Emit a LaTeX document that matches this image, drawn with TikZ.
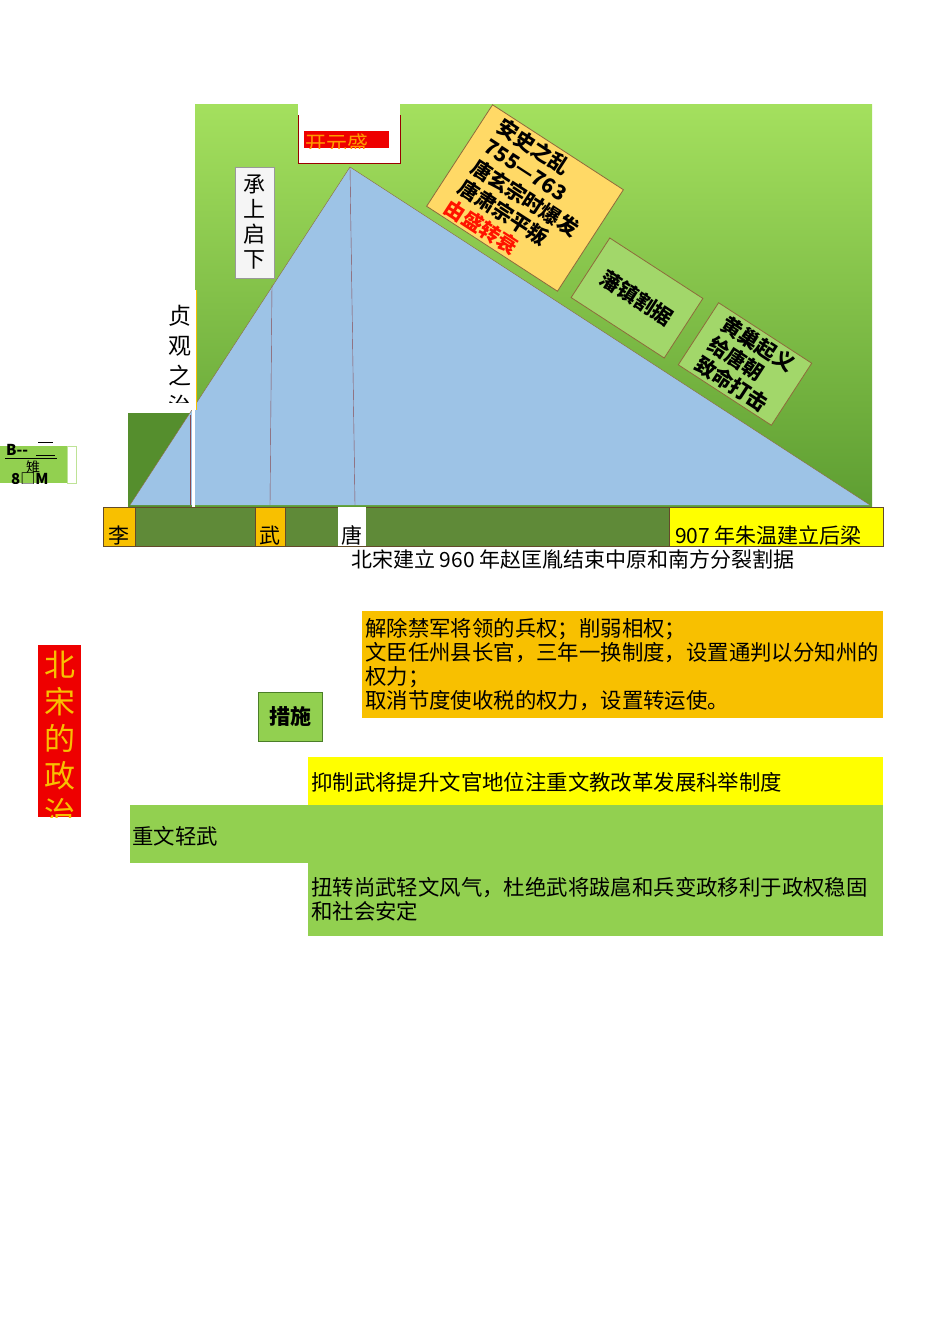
\documentclass[tikz,border=0pt]{standalone}
\usepackage{fontspec}
\setmainfont{Noto Sans CJK SC}
\usetikzlibrary{positioning}
\usepackage{xcolor}

\definecolor{greentop}{HTML}{A4E05E}
\definecolor{greenbot}{HTML}{5E9E32}
\definecolor{skyblue}{HTML}{9DC3E6}
\definecolor{edgebrown}{HTML}{8E6A3C}
\definecolor{bardark}{HTML}{5F8A38}
\definecolor{goldbox}{HTML}{F8C000}
\definecolor{pureyellow}{HTML}{FFFF00}
\definecolor{leafgreen}{HTML}{92D050}
\definecolor{paleorange}{HTML}{FFD966}
\definecolor{redbox}{HTML}{EE0000}

\begin{document}
\begin{tikzpicture}[x=1pt, y=-1pt]
\tikzset{
    plainbox/.style={rectangle, inner sep=0pt, anchor=north west, outer sep=0pt},
    tiltbox/.style={rectangle, draw=edgebrown, thick, rotate=-33, inner sep=2pt, align=left, font=\fontsize{20.5}{24}\selectfont\bfseries},
    vtext/.style={align=center, inner sep=0pt},
    bartext/.style={inner sep=1pt, font=\fontsize{21}{24}\selectfont},
    bodytext/.style={align=left, inner sep=0pt, anchor=north west, font=\fontsize{21.4}{24}\selectfont}
}
\useasboundingbox (0,0) rectangle (950,1344);

% green field behind the curve
\node[plainbox, minimum width=677pt, minimum height=403pt, top color=greentop, bottom color=greenbot] (field) at (195,104) {};
\node[plainbox, minimum width=102pt, minimum height=59pt, fill=white] (topgap) at (298,104) {};
\draw[red!60!black, thick] (topgap.west |- 0,115) |- (topgap.south east) -- (topgap.east |- 0,115);

% the rise and fall
\coordinate (base left) at (130,505);
\coordinate (peak) at (350,167);
\coordinate (base right) at (870,505);
\node[plainbox, minimum width=64pt, minimum height=94pt, fill=greenbot!90!black] (leftpiece) at (128,413) {};
\fill[skyblue] (base left) -- (peak) -- (base right) -- cycle;
\draw[edgebrown] (base left) -- (peak) -- (base right);
\draw[edgebrown!70!violet] (272,285) -- (270,505);
\draw[edgebrown!70!violet] (peak) -- (355,505);
\draw[edgebrown!70!violet] (190,415) -- (190,505);
\fill[white] (192,290) rectangle (195,507);

% 开元盛
\node[plainbox, minimum width=85pt, minimum height=17pt, fill=redbox] (kaiyuan box) at (304,131) {};
\begin{scope}
\clip (kaiyuan box.north west) rectangle (kaiyuan box.south east);
\node[inner sep=0pt, anchor=north west, text=orange!80!yellow, font=\fontsize{21}{21}\selectfont] (kaiyuan) at (305,134) {开元盛};
\end{scope}

% 承上启下
\node[plainbox, minimum width=39pt, minimum height=111pt, fill=white!92!gray, draw=gray!80] (chengbox) at (235,167) {};
\node[vtext, font=\fontsize{22}{25}\selectfont] (cheng) at (chengbox.center) {承\\上\\启\\下};

% 贞观之治
\fill[white] (165,290) rectangle (196,410);
\draw[goldbox, thick] (196,290) -- (196,410);
\begin{scope}
\clip (160,290) rectangle (196,402);
\node[vtext, anchor=north, font=\fontsize{23}{30}\selectfont] (zhenguan) at (180,305) {贞\\观\\之\\治};
\end{scope}

% turning points along the fall
\node[tiltbox, fill=paleorange, minimum width=156pt, minimum height=121pt] (anshi) at (525,198)
    {安史之乱\\755—763\\唐玄宗时爆发\\唐肃宗平叛\\\textcolor{red!85!orange}{由盛转衰}};
\node[tiltbox, fill=leafgreen!85!white, minimum width=111pt, minimum height=71pt, align=center] (fanzhen) at (637,298) {藩镇割据};
\node[tiltbox, fill=leafgreen!85!white, minimum width=111pt, minimum height=74pt] (huangchao) at (745,364)
    {黄巢起义\\给唐朝\\致命打击};

% time bar
\node[plainbox, minimum width=780pt, minimum height=39pt, fill=bardark, draw=edgebrown!70!black] (timebar) at (103,507) {};
\node[plainbox, minimum width=32pt, minimum height=39pt, fill=goldbox, draw=edgebrown!70!black] (li) at (103,507) {};
\node[bartext, anchor=south] at (li.south) {李};
\node[plainbox, minimum width=30pt, minimum height=39pt, fill=goldbox, draw=edgebrown!70!black] (wu) at (255,507) {};
\node[bartext, anchor=south] at (wu.south) {武};
\node[plainbox, minimum width=28pt, minimum height=39pt, fill=white] (tang) at (338,507) {};
\node[bartext, anchor=south] at (tang.south) {唐};
\node[plainbox, minimum width=214pt, minimum height=39pt, fill=pureyellow, draw=edgebrown!70!black] (houliang) at (669,507) {};
\node[bartext, anchor=south west, inner xsep=6pt] at (houliang.south west) {907 年朱温建立后梁};
\node[bartext, anchor=north west] (beisong) at (350,549) {北宋建立 960 年赵匡胤结束中原和南方分裂割据};

% odd little tag on the left
\node[plainbox, minimum width=67pt, minimum height=37pt, fill=leafgreen] (tag) at (0,446) {};
\node[plainbox, minimum width=9pt, minimum height=37pt, fill=white, draw=leafgreen!60] (tagend) at (67,446) {};
\draw[thick] (38,442) -- (53,442);
\begin{scope}
\clip (0,440) rectangle (67,483);
\node[inner sep=0pt, anchor=north west, font=\fontsize{15}{15}\selectfont\bfseries] (tagb) at (6,444) {B{-}{-}};
\draw[thick] (5,458) -- (57,458);
\draw[thick] (36,455) -- (55,455);
\node[inner sep=0pt, font=\fontsize{14}{14}\selectfont] (tagmid) at (33,467) {雉};
\node[inner sep=0pt, anchor=north west, font=\fontsize{15}{15}\selectfont\bfseries] (tagc) at (11,473) {8□M};
\end{scope}

% 北宋的政治
\node[plainbox, minimum width=43pt, minimum height=172pt, fill=redbox] (songbox) at (38,645) {};
\begin{scope}
\clip (songbox.north west) rectangle (songbox.south east);
\node[vtext, anchor=north, text=goldbox, font=\fontsize{31}{37}\selectfont] (song) at (59.5,651) {北\\宋\\的\\政\\治};
\end{scope}

% 措施
\node[plainbox, minimum width=64pt, minimum height=49pt, fill=leafgreen, draw=greenbot!80!black, thick] (cuoshi box) at (258,692) {};
\node[font=\fontsize{21}{21}\selectfont\bfseries] (cuoshi) at (cuoshi box.center) {措施};

% measures and results
\node[plainbox, minimum width=521pt, minimum height=107pt, fill=goldbox] (measures) at (362,611) {};
\node[bodytext, text width=520pt] (measure text) at (365,618)
    {解除禁军将领的兵权；削弱相权；\\文臣任州县长官，三年一换制度，设置通判以分知州的\\权力；\\取消节度使收税的权力，设置转运使。};
\node[plainbox, minimum width=575pt, minimum height=48pt, fill=pureyellow] (yizhi box) at (308,757) {};
\node[bodytext, anchor=west] (yizhi) at (311,782) {抑制武将提升文官地位注重文教改革发展科举制度};
\node[plainbox, minimum width=753pt, minimum height=58pt, fill=leafgreen] (zhongwen box) at (130,805) {};
\node[bodytext, anchor=west] (zhongwen) at (132,836) {重文轻武};
\node[plainbox, minimum width=575pt, minimum height=73pt, fill=leafgreen] (result box) at (308,863) {};
\node[bodytext, text width=572pt] (result) at (311,877)
    {扭转尚武轻文风气，杜绝武将跋扈和兵变政移利于政权稳固\\和社会安定};
\end{tikzpicture}
\end{document}
